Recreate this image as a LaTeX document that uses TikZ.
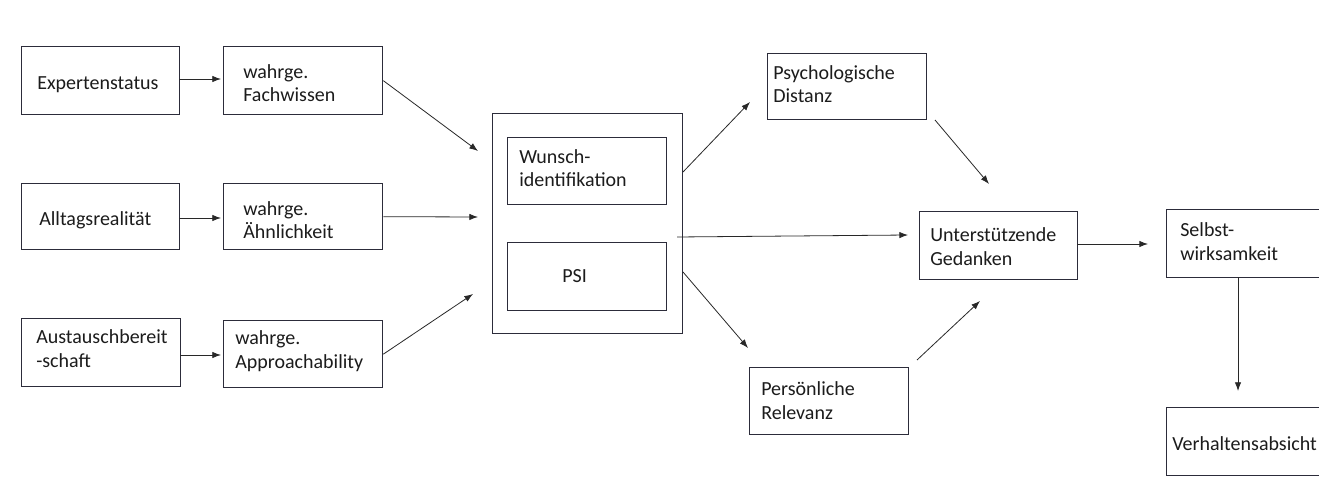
\documentclass[tikz,border=0pt]{standalone}
\usepackage{fontspec}
\setmainfont{Carlito}
\usetikzlibrary{arrows.meta}
\definecolor{frame}{RGB}{44,44,58}
\definecolor{ink}{RGB}{28,28,28}
\definecolor{wire}{RGB}{40,40,40}
\tikzset{
  px/.style={x=0.75pt,y=-0.75pt},
  box/.style 2 args={draw=frame, line width=1pt, inner sep=0pt, anchor=north west,
    minimum width=#1*0.75pt, minimum height=#2*0.75pt},
  % labels are placed by the baseline of their last line
  lbl/.style={anchor=base west, inner sep=0pt, text=ink,
    font=\fontsize{15}{17.6}\selectfont, align=left},
  link/.style={draw=wire, line width=0.6pt, -{Latex[length=6.5pt,width=4.8pt]}}
}
\begin{document}
\begin{tikzpicture}[px]
\useasboundingbox (0,0) rectangle (1319,502);
\clip (0,0) rectangle (1319,502);
\fill[white] (0,0) rectangle (1319,502);

% input factors
\node[box={158}{68}] (exp) at (21,46) {};
\node[lbl] (expT) at (37,90) {Expertenstatus};
\node[box={158}{66}] (all) at (21,183) {};
\node[lbl] (allT) at (39,226) {Alltagsrealität};
\node[box={159}{68}] (aus) at (21,318) {};
\node[lbl] (ausT) at (36,367) {Austauschbereit\\-schaft};

% perceived attributes
\node[box={159}{68}] (fach) at (223,46) {};
\node[lbl] (fachT) at (243,102) {wahrge.\\Fachwissen};
\node[box={159}{66}] (aehn) at (223,183) {};
\node[lbl] (aehnT) at (243,238.5) {wahrge.\\Ähnlichkeit};
\node[box={159}{67}] (appr) at (223,320) {};
\node[lbl] (apprT) at (235,368) {wahrge.\\Approachability};

% central block
\node[box={190}{220}] (outer) at (492,113) {};
\node[box={159}{67}] (wunsch) at (507,137) {};
\node[lbl] (wunschT) at (519,187) {Wunsch-\\identifikation};
\node[box={159}{68}] (psi) at (507,242) {};
\node[lbl] (psiT) at (562,282) {PSI};

% mediators
\node[box={159}{66}] (dist) at (767,53) {};
\node[lbl] (distT) at (773,103) {Psychologische\\Distanz};
\node[box={159}{67}] (pers) at (749,367) {};
\node[lbl] (persT) at (761,419) {Persönliche\\Relevanz};
\node[box={158}{68}] (unter) at (919,211) {};
\node[lbl] (unterT) at (930,265) {Unterstützende\\Gedanken};

% outcomes
\node[box={158}{68}] (selbst) at (1166,209) {};
\node[lbl] (selbstT) at (1180,260) {Selbst-\\wirksamkeit};
\node[box={158}{68}] (verh) at (1166,407) {};
\node[lbl] (verhT) at (1172,450) {Verhaltensabsicht};

% free connector ends
\coordinate (expOut) at (179,79);
\coordinate (allOut) at (179,218);
\coordinate (ausOut) at (180,355);
\coordinate (inA) at (478,151);
\coordinate (inB) at (478,217);
\coordinate (inC) at (473,294);
\coordinate (outA) at (683,172);
\coordinate (outB) at (677,237);
\coordinate (outC) at (683,272);
\coordinate (tipDist) at (750,102);
\coordinate (tipUnter) at (908,235);
\coordinate (tipPers) at (748,348);
\coordinate (fromDist) at (935,120);
\coordinate (toUnterA) at (989,184);
\coordinate (fromPers) at (917,360);
\coordinate (toUnterB) at (980,301);
\coordinate (unterOut) at (1077,244);
\coordinate (toSelbst) at (1148,244);
\coordinate (selbstBot) at (1238,277);
\coordinate (verhTop) at (1238,391);

% connectors
\draw[link, shorten >=1.5pt] (expOut) -- (expOut -| fach.west);
\draw[link, shorten >=1.5pt] (allOut) -- (allOut -| aehn.west);
\draw[link, shorten >=1.5pt] (ausOut) -- (ausOut -| appr.west);
\draw[link] (fach.east) -- (inA);
\draw[link] (aehn.east) -- (inB);
\draw[link] (appr.east) -- (inC);
\draw[link] (outA) -- (tipDist);
\draw[link] (outB) -- (tipUnter);
\draw[link] (outC) -- (tipPers);
\draw[link] (fromDist) -- (toUnterA);
\draw[link] (fromPers) -- (toUnterB);
\draw[link] (unterOut) -- (toSelbst);
\draw[link] (selbstBot) -- (verhTop);
\end{tikzpicture}
\end{document}
